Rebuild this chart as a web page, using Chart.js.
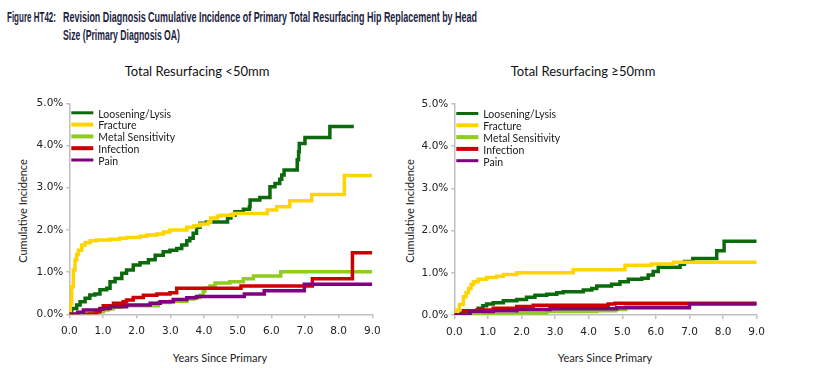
<!DOCTYPE html>
<html>
<head>
<meta charset="utf-8">
<script src="https://cdn.jsdelivr.net/npm/chart.js@4.4.1/dist/chart.umd.min.js"></script>
<style>
  html, body { margin:0; padding:0; background:#fff; }
  body { width:834px; height:382px; position:relative; overflow:hidden; font-family:Lato, "Liberation Sans", sans-serif; }
  .t { position:absolute; white-space:nowrap; color:#1c2340; }
  .fig { font-family:"Liberation Sans Narrow","Liberation Sans",Arial,sans-serif; font-weight:bold; font-size:14.5px; line-height:16px; transform-origin:0 50%; }
  .sub { font-size:13px; color:#111; transform:translateX(-50%); }
  .axt { font-size:11px; color:#222; }
  canvas { position:absolute; }
</style>
</head>
<body>
<div class="t fig" id="f1" style="left:7px; top:9px;">Figure HT42:</div>
<div class="t fig" id="f2" style="left:63px; top:9px;">Revision Diagnosis Cumulative Incidence of Primary Total Resurfacing Hip Replacement by Head</div>
<div class="t fig" id="f3" style="left:63px; top:27px;">Size (Primary Diagnosis OA)</div>

<div class="t sub" style="left:197px; top:63px;">Total Resurfacing &lt;50mm</div>
<div class="t sub" style="left:583px; top:63px;">Total Resurfacing ≥50mm</div>

<div class="t axt" style="left:22px; top:211px; transform:translate(-50%,-50%) rotate(-90deg);">Cumulative Incidence</div>
<div class="t axt" style="left:409px; top:211px; transform:translate(-50%,-50%) rotate(-90deg);">Cumulative Incidence</div>
<div class="t axt" style="left:220px; top:357px; transform:translate(-50%,-50%);">Years Since Primary</div>
<div class="t axt" style="left:605px; top:357px; transform:translate(-50%,-50%);">Years Since Primary</div>

<canvas id="c1" width="400" height="260" style="left:0px; top:90px;"></canvas>
<canvas id="c2" width="400" height="260" style="left:400px; top:90px;"></canvas>

<script>
// ---------- DATA ----------
const seriesLabels = ["Loosening/Lysis", "Fracture", "Metal Sensitivity", "Infection", "Pain"];
const xTicks = [0,1,2,3,4,5,6,7,8,9];
const yTicks = [0,1,2,3,4,5];

// Total Resurfacing <50mm
const smallLoosX = [0,0.07,0.22,0.32,0.47,0.61,0.76,0.91,1.11,1.21,1.36,1.56,1.70,1.90,2.10,2.35,2.55,2.79,2.99,3.19,3.34,3.49,3.58,3.68,3.78,3.88,4.08,4.70,4.80,4.92,5.17,5.35,5.37,5.66,5.96,6.11,6.25,6.31,6.38,6.77,6.81,6.83,7.00,7.74,8.45];
const smallLoosY = [0,0.14,0.22,0.30,0.38,0.46,0.48,0.58,0.62,0.77,0.85,0.97,1.05,1.17,1.22,1.29,1.40,1.48,1.52,1.56,1.64,1.74,1.80,1.92,2.06,2.16,2.19,2.28,2.35,2.43,2.49,2.55,2.71,2.77,3.02,3.10,3.20,3.30,3.42,3.66,3.85,4.05,4.19,4.45,4.45];
const smallFracX = [0,0.03,0.07,0.12,0.17,0.22,0.27,0.37,0.47,0.62,0.81,1.21,1.50,1.70,2.10,2.30,2.60,2.80,2.99,3.49,3.70,3.88,4.13,4.20,4.40,4.50,4.87,5.88,6.16,6.55,7.20,8.17,9.0];
const smallFracY = [0,0.25,0.65,1.05,1.29,1.42,1.52,1.64,1.70,1.74,1.76,1.78,1.80,1.82,1.85,1.88,1.90,1.95,2.00,2.06,2.10,2.14,2.19,2.28,2.33,2.35,2.39,2.47,2.55,2.69,2.84,3.29,3.29];
const smallMetalX = [0,0.55,0.71,0.85,1.01,1.15,1.31,1.55,1.70,2.64,3.00,3.49,3.70,3.88,3.98,4.03,4.18,4.33,4.77,5.17,5.47,6.28,9.0];
const smallMetalY = [0,0.01,0.03,0.06,0.10,0.13,0.17,0.19,0.20,0.28,0.31,0.36,0.40,0.45,0.55,0.62,0.67,0.74,0.77,0.84,0.91,1.01,1.01];
const smallInfX = [0,0.60,0.81,0.91,1.01,1.31,1.60,1.70,1.90,2.20,2.60,2.99,3.19,5.10,7.22,8.41,9.0];
const smallInfY = [0,0.01,0.06,0.12,0.20,0.26,0.30,0.34,0.40,0.45,0.48,0.51,0.62,0.67,0.84,1.46,1.46];
const smallPainX = [0,0.25,0.42,0.91,1.21,1.70,2.40,2.70,3.09,3.49,3.78,5.20,5.79,6.98,9.0];
const smallPainY = [0,0.05,0.10,0.14,0.18,0.22,0.26,0.30,0.35,0.39,0.42,0.48,0.56,0.71,0.71];

// Total Resurfacing >=50mm
const largeLoosX = [0,0.20,0.37,0.71,0.85,0.96,1.16,1.46,1.86,2.15,2.40,2.75,3.05,3.24,3.84,4.09,4.24,4.68,4.93,5.18,5.58,5.77,5.92,6.07,6.72,6.85,7.10,7.81,8.03,9.0];
const largeLoosY = [0,0.05,0.09,0.16,0.22,0.26,0.29,0.34,0.37,0.42,0.47,0.49,0.53,0.55,0.59,0.63,0.69,0.73,0.79,0.85,0.87,0.95,1.03,1.13,1.20,1.27,1.34,1.52,1.75,1.75];
const largeFracX = [0,0.07,0.15,0.27,0.35,0.42,0.50,0.57,0.71,0.96,1.26,1.46,1.86,3.54,5.08,5.87,6.52,9.0];
const largeFracY = [0,0.12,0.25,0.43,0.53,0.63,0.72,0.79,0.85,0.89,0.92,0.96,1.00,1.07,1.18,1.21,1.25,1.25];
const largeMetalX = [0,0.86,1.86,2.75,4.24,4.80,5.10,6.98];
const largeMetalY = [0,0.02,0.05,0.08,0.10,0.13,0.22,0.22];
const largeInfX = [0,0.27,0.67,1.16,1.86,2.35,4.58,4.78,9.0];
const largeInfY = [0,0.10,0.12,0.16,0.20,0.23,0.26,0.28,0.28];
const largePainX = [0,0.47,1.16,1.86,2.85,4.83,7.00,9.0];
const largePainY = [0,0.08,0.10,0.13,0.15,0.17,0.26,0.26];

// ---------- STYLE ----------
const colors = ["#0b6a0b", "#ffd500", "#8fcc1f", "#cc0000", "#800080"];
const widths = [3.5, 3.5, 3.5, 3.5, 3.5];
const legendWidths = [3, 4, 4, 4, 3];

const insideLegend = {
  id: 'insideLegend',
  afterDraw(chart) {
    const ctx = chart.ctx, a = chart.chartArea;
    ctx.save();
    ctx.font = '10.5px Lato, "Liberation Sans", sans-serif';
    ctx.textBaseline = 'middle';
    chart.data.datasets.forEach((ds, i) => {
      const y = a.top + 9.5 + i * 11.8;
      ctx.strokeStyle = ds.borderColor;
      ctx.lineWidth = legendWidths[i];
      ctx.beginPath();
      ctx.moveTo(a.left + 2, y);
      ctx.lineTo(a.left + 24, y);
      ctx.stroke();
      ctx.fillStyle = '#1a1a1a';
      ctx.fillText(ds.label, a.left + 29, y + 1.5);
    });
    ctx.restore();
  }
};

function makeChart(id, xs, ys, o) {
  const datasets = seriesLabels.map((lab, i) => ({
    label: lab,
    data: xs[i].map((x, j) => ({x: x, y: ys[i][j]})),
    borderColor: colors[i],
    backgroundColor: colors[i],
    borderWidth: widths[i],
    pointRadius: 0,
    stepped: 'before',
    fill: false,
    order: 5 - i,
    borderCapStyle: 'butt'
  }));
  const tickFont = {family: '"DejaVu Sans", sans-serif', size: 10.5};
  new Chart(document.getElementById(id), {
    type: 'line',
    data: {datasets},
    options: {
      responsive: false, animation: false,
      layout: {padding: {left: 0, right: o.padRight, top: o.padTop, bottom: 0}},
      plugins: {legend: {display: false}, tooltip: {enabled: false}, title: {display: false}},
      scales: {
        x: {
          type: 'linear', min: 0, max: 9,
          afterBuildTicks: s => { s.ticks = xTicks.map(v => ({value: v})); },
          ticks: {callback: v => v.toFixed(1), font: tickFont, color: '#222', padding: 7, maxRotation: 0, autoSkip: false},
          grid: {drawOnChartArea: false, drawTicks: true, tickLength: 4, color: '#bfbfbf', lineWidth: 1.5},
          border: {color: '#bfbfbf', width: 1.5},
          afterFit: s => { s.height = o.xh; }
        },
        y: {
          type: 'linear', min: 0, max: 5,
          afterBuildTicks: s => { s.ticks = yTicks.map(v => ({value: v})); },
          ticks: {callback: v => v.toFixed(1) + '%', font: tickFont, color: '#222', padding: 3, autoSkip: false},
          grid: {drawOnChartArea: false, drawTicks: true, tickLength: 3, color: '#bfbfbf', lineWidth: 1.5},
          border: {color: '#bfbfbf', width: 1.5},
          afterFit: s => { s.width = o.yw; }
        }
      }
    },
    plugins: [insideLegend]
  });
}

makeChart('c1',
  [smallLoosX, smallFracX, smallMetalX, smallInfX, smallPainX],
  [smallLoosY, smallFracY, smallMetalY, smallInfY, smallPainY],
  {padRight: 27.7, padTop: 13.3, xh: 35.7, yw: 69.3});
makeChart('c2',
  [largeLoosX, largeFracX, largeMetalX, largeInfX, largePainX],
  [largeLoosY, largeFracY, largeMetalY, largeInfY, largePainY],
  {padRight: 43.3, padTop: 14, xh: 35, yw: 54.3});

// fit title lines to reference widths
function fit(id, w) {
  const el = document.getElementById(id);
  const cw = el.getBoundingClientRect().width;
  if (cw > 0) el.style.transform = 'scaleX(' + (w / cw) + ')';
}
fit('f1', 49);
fit('f2', 414);
fit('f3', 117);
</script>
</body>
</html>
